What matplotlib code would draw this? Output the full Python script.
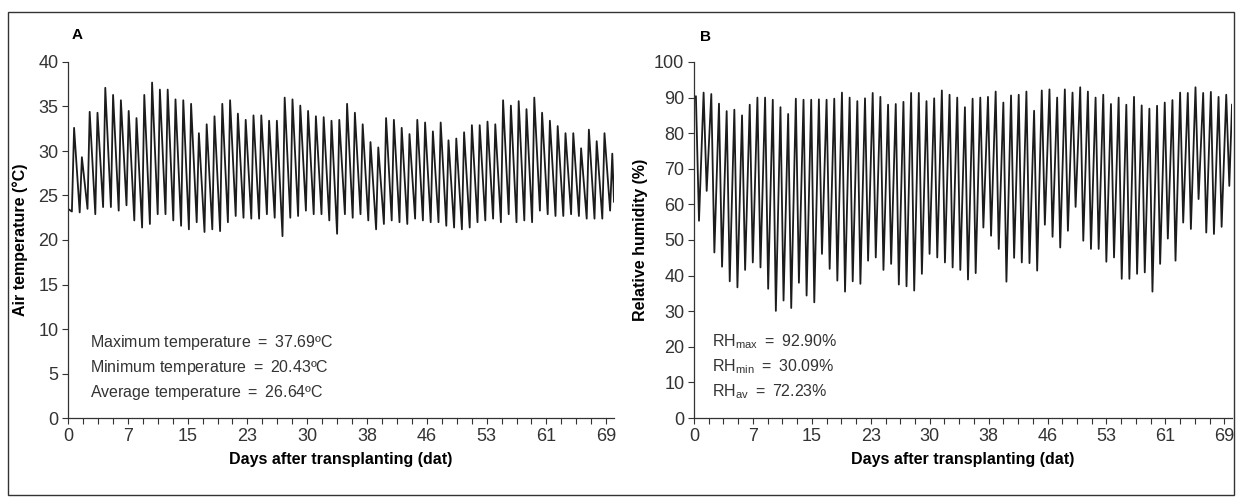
import numpy as np
import matplotlib
matplotlib.use("Agg")
import matplotlib.pyplot as plt
from matplotlib.patches import Rectangle
from matplotlib.ticker import FixedLocator, FixedFormatter

plt.rcParams['font.family'] = ['Liberation Sans', 'DejaVu Sans']
plt.rcParams['mathtext.fontset'] = 'custom'
plt.rcParams['mathtext.rm'] = 'Liberation Sans'

days = np.arange(70)

# air temperature (°C): low just before the morning rise, then the afternoon peak
temp_low = [23.2, 23.1, 23.5, 22.9, 23.7, 23.7, 23.3, 23.9, 22.2, 21.4,
            21.8, 22.9, 22.9, 22.2, 21.6, 21.2, 22.0, 20.9, 21.2, 21.0,
            22.0, 22.7, 22.5, 22.4, 22.4, 22.9, 22.5, 20.43, 22.5, 22.7,
            23.3, 22.9, 22.9, 22.2, 20.7, 22.9, 22.5, 22.9, 22.2, 21.2,
            21.8, 22.2, 22.0, 21.8, 22.4, 22.2, 22.0, 22.0, 21.6, 21.4,
            21.2, 21.4, 22.0, 22.2, 22.4, 22.0, 22.9, 22.0, 22.2, 22.0,
            23.3, 22.9, 22.7, 22.7, 22.9, 22.7, 22.4, 22.4, 22.4, 23.3]
temp_high = [32.6, 29.3, 34.4, 34.3, 37.1, 36.3, 35.7, 34.5, 33.7, 36.3,
             37.69, 36.9, 36.9, 35.8, 35.7, 35.3, 32.0, 33.0, 33.9, 35.3,
             35.7, 34.2, 33.5, 34.0, 34.0, 33.4, 33.4, 36.0, 35.8, 35.1,
             34.5, 33.9, 33.8, 33.4, 33.5, 35.3, 34.3, 33.0, 31.0, 30.4,
             33.7, 33.5, 32.6, 31.9, 33.5, 33.2, 32.2, 33.2, 31.2, 31.4,
             32.1, 32.9, 32.9, 33.3, 33.0, 35.7, 35.1, 35.6, 34.7, 36.0,
             34.3, 33.4, 32.8, 32.0, 32.0, 30.3, 32.4, 31.1, 32.0, 29.7]
temp_start, temp_end = 23.5, 24.3

# relative humidity (%): night maximum, then the midday minimum
rh_high = [90.4, 91.4, 91.0, 88.3, 86.2, 86.6, 85.0, 88.0, 90.0, 90.0,
           89.4, 87.3, 85.4, 89.7, 89.4, 89.4, 89.5, 89.4, 89.7, 91.4,
           90.0, 89.0, 89.8, 91.3, 90.2, 88.0, 88.2, 88.8, 91.3, 91.3,
           89.0, 89.8, 92.0, 90.8, 90.0, 87.3, 89.7, 90.0, 90.2, 91.7,
           88.6, 90.6, 90.8, 91.7, 86.3, 92.0, 92.3, 90.0, 92.3, 91.4,
           92.9, 91.7, 90.0, 90.8, 88.2, 90.0, 88.0, 90.2, 87.8, 86.9,
           87.7, 88.6, 89.3, 91.4, 91.3, 92.9, 91.3, 91.6, 90.2, 90.8]
rh_low = [55.4, 63.8, 46.5, 42.5, 38.4, 36.7, 41.6, 43.7, 42.3, 36.3,
          30.09, 33.0, 30.9, 38.0, 34.4, 32.5, 46.1, 41.9, 38.6, 35.5,
          38.4, 37.7, 44.2, 45.1, 41.6, 43.3, 37.5, 37.0, 35.8, 40.5,
          46.1, 45.1, 43.7, 42.3, 41.6, 38.9, 40.7, 53.5, 51.2, 47.5,
          38.3, 45.0, 43.7, 43.5, 41.4, 54.3, 50.9, 47.9, 52.6, 59.3,
          49.8, 47.5, 47.5, 43.9, 45.1, 39.1, 39.1, 40.5, 40.9, 35.5,
          43.3, 50.4, 44.2, 54.9, 53.1, 61.5, 52.1, 51.7, 53.7, 65.2]
rh_start, rh_end = 89.5, 88.0

tick_pos = np.arange(10) * 23 / 3
tick_lab = ['0', '7', '15', '23', '30', '38', '46', '53', '61', '69']

temp_notes = ['Maximum temperature $=$ 37.69ºC',
              'Minimum temperature $=$ 20.43ºC',
              'Average temperature $=$ 26.64ºC']
rh_notes = ['RH$_{\\mathrm{max}}$ $=$ 92.90%',
            'RH$_{\\mathrm{min}}$ $=$ 30.09%',
            'RH$_{\\mathrm{av}}$ $=$ 72.23%']

t_x = np.concatenate([[0], np.column_stack([days + 0.5, days + 0.78]).ravel(), [70]])
t_y = np.concatenate([[temp_start], np.column_stack([temp_low, temp_high]).ravel(), [temp_end]])
h_x = np.concatenate([[0], np.column_stack([days + 0.25, days + 0.65]).ravel(), [70]])
h_y = np.concatenate([[rh_start], np.column_stack([rh_high, rh_low]).ravel(), [rh_end]])

W, H = 1237, 498
fig = plt.figure(figsize=(W / 100, H / 100), dpi=100)
axA = fig.add_axes([68 / W, 1 - 418 / H, 546 / W, 356 / H])
axB = fig.add_axes([694 / W, 1 - 418 / H, 538 / W, 356 / H])

gray = '#333333'
for ax, x, y, ymax, ystep, ylab, pad in [(axA, t_x, t_y, 40, 5, 'Air temperature (°C)', 7),
                                         (axB, h_x, h_y, 100, 10, 'Relative humidity (%)', 4)]:
    ax.plot(x, y, color='#1c1c1c', lw=1.3)
    ax.set_xlim(0, 70)
    ax.set_ylim(0, ymax)
    ax.set_yticks(np.arange(0, ymax + 1, ystep))
    ax.xaxis.set_major_locator(FixedLocator(tick_pos))
    ax.xaxis.set_major_formatter(FixedFormatter(tick_lab))
    ax.xaxis.set_minor_locator(FixedLocator(np.arange(37) * 23 / 12))
    ax.tick_params(which='both', direction='out', length=4, width=0.8, colors=gray,
                   labelsize=13, labelcolor=gray, pad=3)
    for s in ['top', 'right']:
        ax.spines[s].set_visible(False)
    for s in ['left', 'bottom']:
        ax.spines[s].set_color(gray)
        ax.spines[s].set_linewidth(0.9)
    ax.set_xlabel('Days after transplanting (dat)', fontsize=11.5, fontweight='bold', labelpad=5)
    ax.set_ylabel(ylab, fontsize=11.5, fontweight='bold', labelpad=pad)

for i, s in enumerate(temp_notes):
    axA.text(2.8, 8.5 - 2.8 * i, s, fontsize=11.5, color=gray, va='center')
for i, s in enumerate(rh_notes):
    axB.text(2.3, 21.5 - 7 * i, s, fontsize=11.5, color=gray, va='center')

fig.text(72 / W, 1 - 35 / H, 'A', fontsize=11, fontweight='bold', va='center')
fig.text(700 / W, 1 - 37 / H, 'B', fontsize=11, fontweight='bold', va='center')

fig.patches.append(Rectangle((8 / W, 3 / H), 1226 / W, 483 / H, transform=fig.transFigure,
                             fill=False, edgecolor=gray, lw=1.0))

fig.savefig('out.png', dpi=100)
